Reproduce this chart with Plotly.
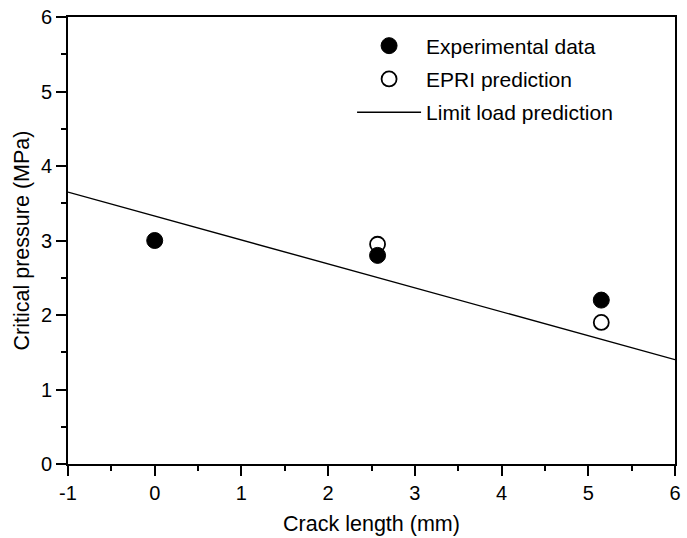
import plotly.graph_objects as go

crack_exp = [0.0, 2.57, 5.15]
pressure_exp = [3.0, 2.8, 2.2]
crack_epri = [2.57, 5.15]
pressure_epri = [2.95, 1.9]
crack_line = [-1.0, 6.0]
pressure_line = [3.65, 1.40]

x_tickvals = [-1, 0, 1, 2, 3, 4, 5, 6]
x_ticktext = ["-1", "0", "1", "2", "3", "4", "5", "6"]
y_tickvals = [0, 1, 2, 3, 4, 5, 6]
y_ticktext = ["0", "1", "2", "3", "4", "5", "6"]

FONT = "Liberation Sans, Arial, sans-serif"

fig = go.Figure()
fig.add_trace(go.Scatter(x=crack_exp, y=pressure_exp, mode="markers", name="Experimental data",
                         legendgroup="a",
                         marker=dict(symbol="circle", size=16, color="black",
                                     line=dict(color="black", width=1))))
fig.add_trace(go.Scatter(x=crack_epri, y=pressure_epri, mode="markers", name="EPRI prediction",
                         legendgroup="b",
                         marker=dict(symbol="circle-open", size=15, color="black",
                                     line=dict(color="black", width=1.8))))
fig.add_trace(go.Scatter(x=crack_line, y=pressure_line, mode="lines", name="Limit load prediction",
                         legendgroup="c",
                         line=dict(color="black", width=1.4)))

axis_common = dict(showgrid=False, zeroline=False, showline=True, linecolor="black", linewidth=2,
                   mirror=True, ticks="outside", ticklen=10, tickwidth=2, tickcolor="black",
                   tickfont=dict(family=FONT, size=20, color="black"),
                   minor=dict(ticks="outside", ticklen=5, tickwidth=2, tickcolor="black", dtick=0.5))

fig.update_xaxes(range=[-1, 6], tickmode="array", tickvals=x_tickvals, ticktext=x_ticktext,
                 title=dict(text="Crack length (mm)", font=dict(family=FONT, size=21.5, color="black"),
                            standoff=13),
                 **axis_common)
fig.update_yaxes(range=[0, 6], tickmode="array", tickvals=y_tickvals, ticktext=y_ticktext,
                 title=dict(text="Critical pressure (MPa)", font=dict(family=FONT, size=21.5, color="black"),
                            standoff=5),
                 **axis_common)

fig.update_layout(
    width=687, height=538,
    margin=dict(l=68, r=6, t=16, b=71),
    plot_bgcolor="white", paper_bgcolor="white",
    legend=dict(x=0.468, y=0.981, xanchor="left", yanchor="top",
                bgcolor="rgba(0,0,0,0)", borderwidth=0,
                font=dict(family=FONT, size=21, color="black"),
                itemwidth=64, tracegroupgap=3),
    showlegend=True,
)

fig.write_html("out.html")
